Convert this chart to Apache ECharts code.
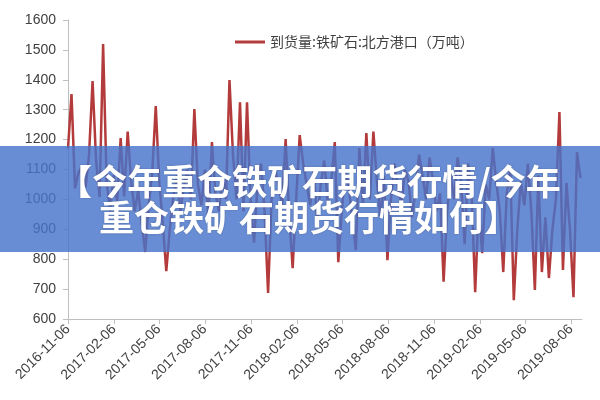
<!DOCTYPE html>
<html>
<head>
<meta charset="utf-8">
<script src="https://cdn.jsdelivr.net/npm/echarts@6/dist/echarts.min.js"></script>
<style>html,body{margin:0;padding:0;background:#fff}#c{width:600px;height:400px}</style>
</head>
<body>
<div id="c"></div>
<script>
var seriesName = '到货量:铁矿石:北方港口（万吨）';
var titleLines = ['【今年重仓铁矿石期货行情/今年', '重仓铁矿石期货行情如何】'];
var startDate = '2016-11-06';
var tickDates = ['2016-11-06','2017-02-06','2017-05-06','2017-08-06','2017-11-06','2018-02-06',
  '2018-05-06','2018-08-06','2018-11-06','2019-02-06','2019-05-06','2019-08-06'];
var yTicks = [600, 700, 800, 900, 1000, 1100, 1200, 1300, 1400, 1500, 1600];
var values = [
  1170,1352,1037,1090,1110,1040,1150,1396,1130,1008,
  1520,1060,960,1080,990,1205,1010,1227,1060,960,
  1030,920,824,980,1090,1312,1060,920,760,900,
  1010,1080,960,1040,1100,1000,1302,1050,980,1100,
  940,1192,1020,960,1080,1000,1399,1150,1000,1325,
  960,1325,1000,855,1050,1120,960,687,1000,1100,
  1050,980,1202,950,770,1000,1215,1120,1050,980,
  1100,920,1050,1130,990,1060,1192,790,960,1100,
  1040,930,830,1172,980,1222,1000,1227,1060,940,
  1080,797,1000,1120,1040,980,1100,1060,940,1030,
  1150,1080,1000,1140,1060,960,1020,725,960,1080,
  1000,1140,1060,850,1120,1020,690,980,820,1050,
  1000,1172,1060,960,757,1020,1100,663,900,1060,
  980,1120,960,697,1080,757,940,737,900,1000,
  1292,764,1055,900,673,1158,1071
];

function parseD(s){ var p = s.split('-'); return Date.UTC(+p[0], +p[1]-1, +p[2]); }
var DAY = 86400000;
var t0 = parseD(startDate);
var data = values.map(function(v, i){ return [t0 + i*7*DAY, v]; });
var tickTs = tickDates.map(parseD);
function pad(n){ return (n<10?'0':'') + n; }

var chart = echarts.init(document.getElementById('c'));
chart.setOption({
  animation: false,
  backgroundColor: '#ffffff',
  grid: { left: 68, right: 18, top: 20, bottom: 81, containLabel: false },
  legend: {
    data: [seriesName], top: 30, left: 230,
    icon: 'rect', itemWidth: 30, itemHeight: 3, itemGap: 5,
    textStyle: { fontSize: 14, color: '#404040', fontFamily: 'Noto Sans CJK SC' }
  },
  xAxis: {
    type: 'value',
    min: parseD('2016-11-06'),
    max: parseD('2019-08-28'),
    axisLine: { show: true, lineStyle: { color: '#bfbfbf', width: 1 } },
    axisTick: { show: true, length: 5, lineStyle: { color: '#bfbfbf' }, customValues: tickTs },
    splitLine: { show: false },
    axisLabel: {
      customValues: tickTs, rotate: 45, fontSize: 14, color: '#404040', margin: 8,
      fontFamily: 'Liberation Sans', hideOverlap: false, showMinLabel: true, showMaxLabel: true,
      formatter: function(v){ var d = new Date(v); return d.getUTCFullYear() + '-' + pad(d.getUTCMonth()+1) + '-' + pad(d.getUTCDate()); }
    }
  },
  yAxis: {
    type: 'value', min: yTicks[0], max: yTicks[yTicks.length-1], interval: 100,
    axisLine: { show: true, lineStyle: { color: '#bfbfbf', width: 1 } },
    axisTick: { show: true, length: 5, lineStyle: { color: '#bfbfbf' } },
    splitLine: { show: false },
    axisLabel: { fontSize: 14, color: '#404040', margin: 12, fontFamily: 'Liberation Sans',
      formatter: function(v){ return String(v); } }
  },
  series: [{
    name: seriesName, type: 'line', data: data, symbol: 'none',
    lineStyle: { color: '#b33b3b', width: 2.5 }, itemStyle: { color: '#b33b3b' }
  }],
  graphic: [
    { type: 'rect', left: 0, top: 146, z: 100,
      shape: { width: 600, height: 106 }, style: { fill: 'rgba(72,116,202,0.82)' } },
    { type: 'text', x: 309, y: 164, z: 101,
      style: { text: titleLines.join('\n'), fill: '#ffffff', font: 'bold 35px "Noto Sans CJK SC"',
        lineHeight: 36, align: 'center', verticalAlign: 'top',
        textShadowColor: 'rgba(0,0,0,0.25)', textShadowBlur: 2 } }
  ]
});
</script>
</body>
</html>
